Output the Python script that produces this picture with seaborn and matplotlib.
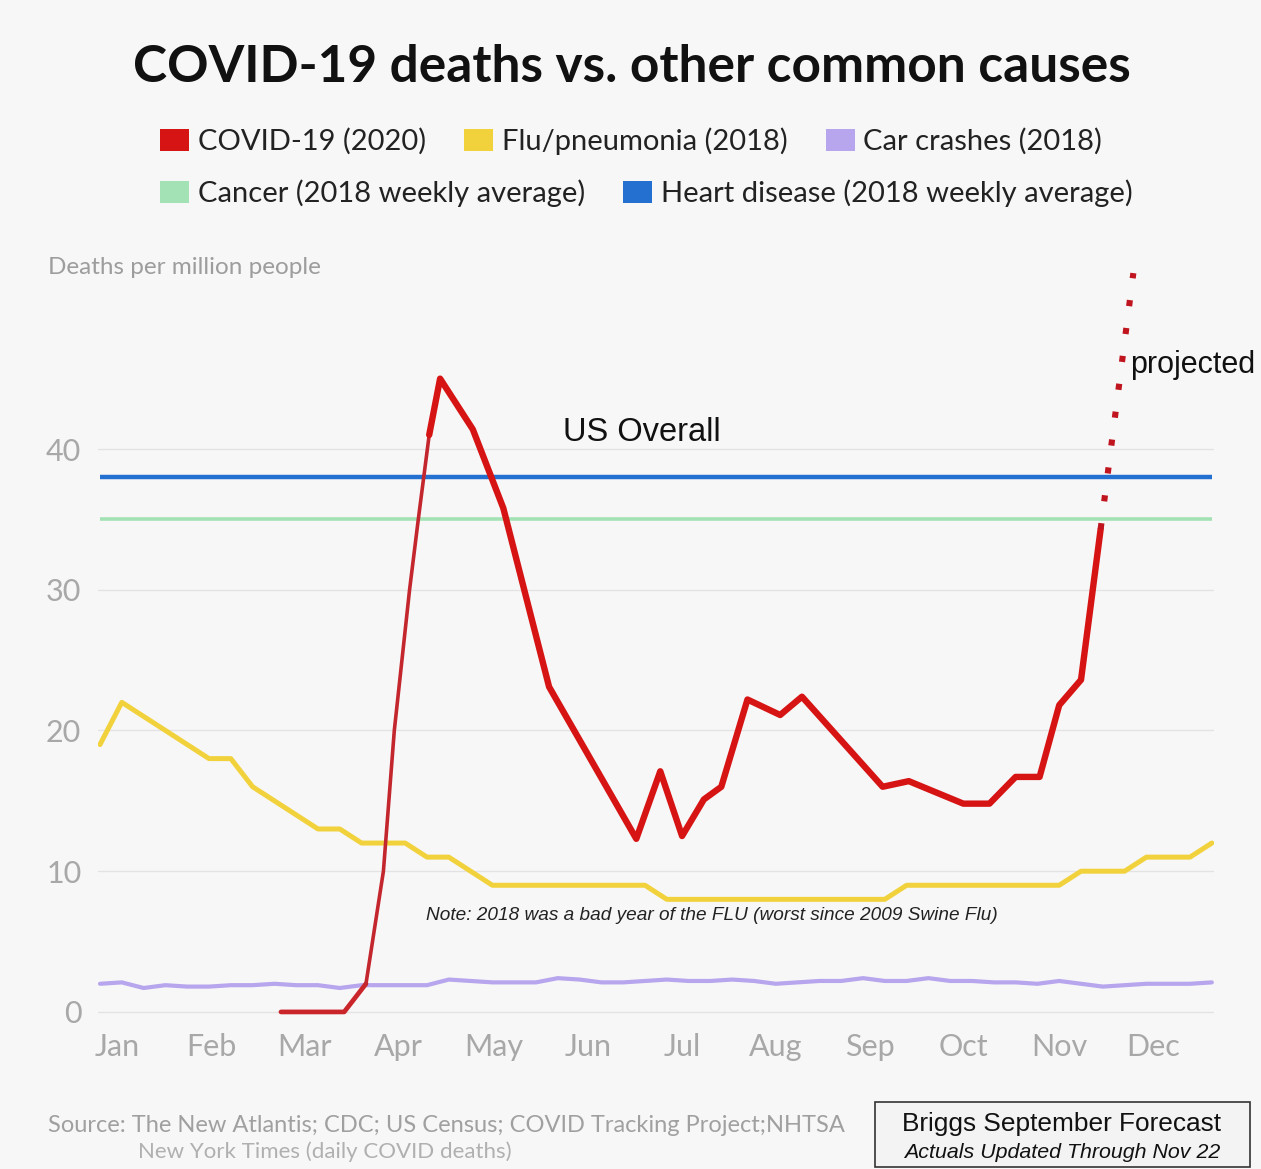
import numpy as np
import matplotlib
matplotlib.use("Agg")
import matplotlib.pyplot as plt
from matplotlib.patches import Patch, Rectangle
import seaborn as sns

# -------- DATA (x in weeks of the year) --------
weeks = np.arange(52)

flu_2018 = [19, 22, 21, 20, 19, 18, 18, 16, 15, 14, 13, 13, 12, 12, 12, 11,
            11, 10, 9, 9, 9, 9, 9, 9, 9, 9, 8, 8, 8, 8, 8, 8, 8, 8, 8, 8,
            8, 9, 9, 9, 9, 9, 9, 9, 9, 10, 10, 10, 11, 11, 11, 12]

car_2018 = [2.0, 2.1, 1.7, 1.9, 1.8, 1.8, 1.9, 1.9, 2.0, 1.9, 1.9, 1.7, 1.9,
            1.9, 1.9, 1.9, 2.3, 2.2, 2.1, 2.1, 2.1, 2.4, 2.3, 2.1, 2.1, 2.2,
            2.3, 2.2, 2.2, 2.3, 2.2, 2.0, 2.1, 2.2, 2.2, 2.4, 2.2, 2.2, 2.4,
            2.2, 2.2, 2.1, 2.1, 2.0, 2.2, 2.0, 1.8, 1.9, 2.0, 2.0, 2.0, 2.1]

cancer_avg = 35
heart_avg = 38

covid_weeks = [8.3, 11.2, 12.2, 13.0, 13.5, 14.2, 14.6, 15.1, 15.6, 17.1, 18.5,
               20.6, 24.6, 25.7, 26.7, 27.7, 28.5, 29.7, 31.2, 32.2, 35.9,
               37.1, 39.6, 40.8, 42.0, 43.1, 44.0, 45.0, 45.9]
covid_2020 = [0, 0, 2.0, 10, 20, 30, 35, 41, 45, 41.4, 35.8, 23.1, 12.3, 17.1,
              12.5, 15.1, 16.0, 22.2, 21.1, 22.4, 16.0, 16.4, 14.8, 14.8,
              16.7, 16.7, 21.8, 23.6, 34.3]

proj_weeks = [45.9, 47.4]
proj_vals = [34.3, 52.5]

months = ['Jan', 'Feb', 'Mar', 'Apr', 'May', 'Jun', 'Jul', 'Aug', 'Sep',
          'Oct', 'Nov', 'Dec']
month_ticks = [0.78, 5.09, 9.4, 13.7, 18.07, 22.4, 26.7, 31.0, 35.3, 39.6,
               44.0, 48.3]
y_ticks = [0, 10, 20, 30, 40]

# -------- COLORS --------
RED = '#d71414'
YELLOW = '#f2d23c'
PURPLE = '#b7a5ee'
GREEN = '#a3e2b5'
BLUE = '#2470d0'
BG = '#f7f7f7'

sns.set_style('white')
plt.rcParams['font.family'] = ['Lato', 'DejaVu Sans']

fig = plt.figure(figsize=(12.61, 11.69), dpi=100, facecolor=BG)
ax = fig.add_axes([98 / 1261, 1 - 1026 / 1169, 1116 / 1261, 774 / 1169])
ax.set_facecolor(BG)

# -------- LINES --------
ax.hlines(heart_avg, weeks[0], weeks[-1], color=BLUE, lw=3.2, zorder=3)
ax.hlines(cancer_avg, weeks[0], weeks[-1], color=GREEN, lw=2.6, zorder=3)
sns.lineplot(x=weeks, y=car_2018, ax=ax, color=PURPLE, lw=3.0, zorder=3)
sns.lineplot(x=weeks, y=flu_2018, ax=ax, color=YELLOW, lw=3.6, zorder=3)

# covid: early part, hand drawn steep rise, then the thick line
sns.lineplot(x=covid_weeks[:3], y=covid_2020[:3], ax=ax, color='#c9252b',
             lw=3.4, zorder=4)
sns.lineplot(x=covid_weeks[2:8], y=covid_2020[2:8], ax=ax, color='#c4262e',
             lw=2.6, zorder=4)
sns.lineplot(x=covid_weeks[7:], y=covid_2020[7:], ax=ax, color=RED,
             lw=4.6, zorder=5)
ax.plot(proj_weeks, proj_vals, color='#c0141e', lw=4.4,
        linestyle=(0, (1, 3.6)), dash_capstyle='butt', zorder=5)

# -------- AXES --------
ax.set_xlim(-0.092, 51.1)
ax.set_ylim(-1, 54)
ax.set_xticks(month_ticks)
ax.set_xticklabels(months)
ax.set_yticks(y_ticks)
ax.tick_params(axis='both', length=0, labelsize=22, colors='#a8a8a8')
ax.tick_params(axis='y', pad=12)
ax.tick_params(axis='x', pad=5)
ax.yaxis.grid(True, color='#e3e3e3', lw=1)
ax.xaxis.grid(False)
ax.set_xlabel('')
ax.set_ylabel('')
for s in ax.spines.values():
    s.set_visible(False)

# -------- ANNOTATIONS --------
ax.text(24.86, 41.2, 'US Overall', family='Liberation Sans', size=23.5,
        ha='center', va='center', color='#111111')
ax.text(47.25, 46.0, 'projected', family='Liberation Sans', size=22,
        ha='left', va='center', color='#111111')
ax.text(28.05, 6.82,
        'Note: 2018 was a bad year of the FLU (worst since 2009 Swine Flu)',
        family='Liberation Sans', style='italic', size=13.7, ha='center',
        va='center', color='#222222')

# -------- TITLE + LEGEND --------
fig.text(632 / 1261, 1 - 68 / 1169, 'COVID-19 deaths vs. other common causes',
         ha='center', va='center', size=37, weight='bold', color='#111111')

leg_kw = dict(loc='center left', frameon=False, fontsize=21, handlelength=1.0,
              handleheight=0.8, handletextpad=0.3, columnspacing=1.3,
              borderpad=0, borderaxespad=0)
leg1 = fig.legend(handles=[Patch(fc=RED, ec='none', label='COVID-19 (2020)'),
                           Patch(fc=YELLOW, ec='none', label='Flu/pneumonia (2018)'),
                           Patch(fc=PURPLE, ec='none', label='Car crashes (2018)')],
                  bbox_to_anchor=(160 / 1261, 1 - 141 / 1169), ncol=3, **leg_kw)
leg2 = fig.legend(handles=[Patch(fc=GREEN, ec='none', label='Cancer (2018 weekly average)'),
                           Patch(fc=BLUE, ec='none', label='Heart disease (2018 weekly average)')],
                  bbox_to_anchor=(160 / 1261, 1 - 193 / 1169), ncol=2, **leg_kw)
for leg in (leg1, leg2):
    for t in leg.get_texts():
        t.set_color('#222222')

fig.text(48 / 1261, 1 - 267 / 1169, 'Deaths per million people', size=17.5,
         ha='left', va='center', color='#9d9d9d')

# -------- FOOTER --------
fig.text(48 / 1261, 1 - 1126 / 1169,
         'Source: The New Atlantis; CDC; US Census; COVID Tracking Project;NHTSA',
         size=17, ha='left', va='center', color='#a0a0a0')
fig.text(138 / 1261, 1 - 1152 / 1169, 'New York Times (daily COVID deaths)',
         size=16, ha='left', va='center', color='#b0b0b0')

fig.patches.append(Rectangle((875 / 1261, 2 / 1169), 375 / 1261, 65 / 1169,
                             transform=fig.transFigure, fc='#f3f3f3',
                             ec='#333333', lw=1.2))
fig.text(1062 / 1261, 1 - 1124 / 1169, 'Briggs September Forecast',
         family='Liberation Sans', size=18.9, ha='center', va='center',
         color='#111111')
fig.text(1062 / 1261, 1 - 1152 / 1169, 'Actuals Updated Through Nov 22',
         family='Liberation Sans', style='italic', size=15.4, ha='center',
         va='center', color='#111111')

fig.savefig('out.png', dpi=100, facecolor=BG)
